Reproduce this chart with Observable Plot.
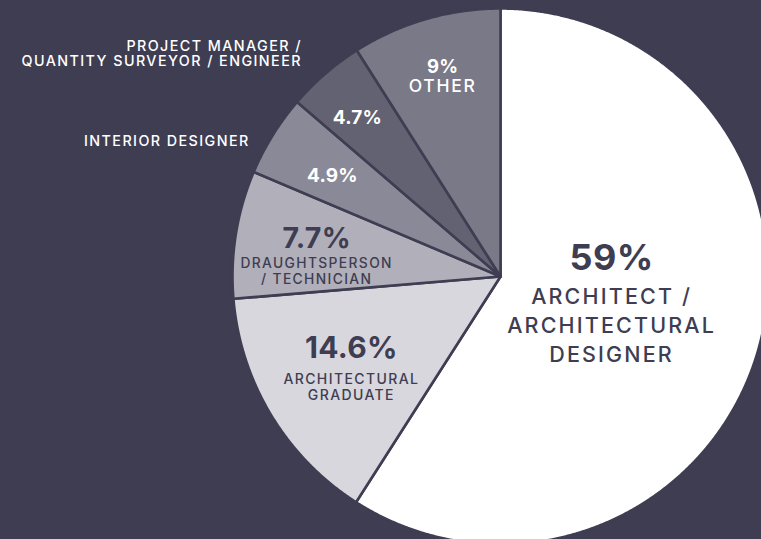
<!DOCTYPE html>
<html>
<head>
<meta charset="utf-8">
<script src="https://cdn.jsdelivr.net/npm/d3@7"></script>
<script src="https://cdn.jsdelivr.net/npm/@observablehq/plot@0.6"></script>
<style>
  html, body { margin: 0; padding: 0; background: #3e3d52; overflow: hidden; }
  #chart svg text { letter-spacing: 0.1em; }
  #chart svg g[font-weight="700"] text { letter-spacing: 0.01em; }
</style>
</head>
<body>
<div id="chart"></div>
<script>
// ---------- data ----------
const categories = [
  "Architect / Architectural Designer",
  "Architectural Graduate",
  "Draughtsperson / Technician",
  "Interior Designer",
  "Project Manager / Quantity Surveyor / Engineer",
  "Other"
];
const values = [59, 14.6, 7.7, 4.9, 4.7, 9];
const valueLabels = ["59%", "14.6%", "7.7%", "4.9%", "4.7%", "9%"];
const nameLabels = [
  "ARCHITECT /\nARCHITECTURAL\nDESIGNER",
  "ARCHITECTURAL\nGRADUATE",
  "DRAUGHTSPERSON\n/ TECHNICIAN",
  "INTERIOR DESIGNER",
  "PROJECT MANAGER /\nQUANTITY SURVEYOR / ENGINEER",
  "OTHER"
];

// ---------- styles / layout ----------
const BG = "#3e3d52";
const DARK = "#3e3d52";
const sliceColors = ["#ffffff", "#d8d7dd", "#b1b0ba", "#8a8997", "#636273", "#7a7988"];
const W = 761, H = 539, CX = 500, CY = 276, R = 268;
const FONT = "Inter, 'Open Sans', sans-serif";

// label placement in polar terms: [angle in degrees clockwise from 12 o'clock, distance as fraction of radius]
const valuePolar = [[80.8, 0.42], [244.2, 0.618], [281.5, 0.70], [300.8, 0.73], [318.0, 0.798], [344.6, 0.812]];
const valueSize = [36, 30, 28.5, 19, 19, 18.5];
const valueFill = [DARK, DARK, DARK, "white", "white", "white"];
// names: inside ones hang below the value (dy), outside ones are placed at their own polar spot
const nameInside = [true, true, true, false, false, true];
const nameDy = [65, 38, 32, 0, 0, 19];
const namePolar = [null, null, null, [298.3, 1.063], [318.3, 1.114], null];
const nameSize = [21.5, 14, 13.8, 14.3, 14.3, 17.5];
const nameLine = [1.35, 1.18, 1.16, 1.1, 1.1, 1.1];
const nameFill = [DARK, DARK, DARK, "white", "white", "white"];

// ---------- geometry from d3.pie ----------
const arcs = d3.pie().sort(null).value(d => d)(values);
const slices = arcs.map(a => {
  const pts = [{x: 0, y: 0}];
  const n = Math.max(2, Math.ceil((a.endAngle - a.startAngle) / (Math.PI / 720)));
  for (let k = 0; k <= n; k++) {
    const t = a.startAngle + (a.endAngle - a.startAngle) * k / n;
    pts.push({x: Math.sin(t), y: -Math.cos(t)});
  }
  return pts;
});
const polar = ([deg, d]) => {
  const t = deg * Math.PI / 180;
  return {x: d * Math.sin(t), y: -d * Math.cos(t)};
};

const marks = [];
slices.forEach((pts, i) => {
  marks.push(Plot.line(pts, {
    x: "x", y: "y", curve: "linear-closed",
    fill: sliceColors[i], stroke: BG, strokeWidth: 2.6, strokeLinejoin: "round"
  }));
});
categories.forEach((c, i) => {
  const vp = polar(valuePolar[i]);
  marks.push(Plot.text([{...vp, t: valueLabels[i]}], {
    x: "x", y: "y", text: "t", fill: valueFill[i], fontSize: valueSize[i],
    fontWeight: 700, fontFamily: FONT, textAnchor: "middle", lineAnchor: "middle"
  }));
  if (nameInside[i]) {
    marks.push(Plot.text([{...vp, t: nameLabels[i]}], {
      x: "x", y: "y", text: "t", dy: nameDy[i], fill: nameFill[i], fontSize: nameSize[i],
      fontWeight: 500, fontFamily: FONT, textAnchor: "middle", lineAnchor: "middle", lineHeight: nameLine[i]
    }));
  } else {
    const np = polar(namePolar[i]);
    marks.push(Plot.text([{...np, t: nameLabels[i]}], {
      x: "x", y: "y", text: "t", fill: nameFill[i], fontSize: nameSize[i],
      fontWeight: 500, fontFamily: FONT, textAnchor: "end", lineAnchor: "middle", lineHeight: nameLine[i]
    }));
  }
});

const chart = Plot.plot({
  width: W, height: H, margin: 0,
  x: {domain: [-CX / R, (W - CX) / R], range: [0, W], axis: null},
  y: {domain: [-CY / R, (H - CY) / R], range: [0, H], axis: null},
  style: {background: BG, fontFamily: FONT, overflow: "hidden"},
  marks
});
document.getElementById("chart").appendChild(chart);
</script>
</body>
</html>
